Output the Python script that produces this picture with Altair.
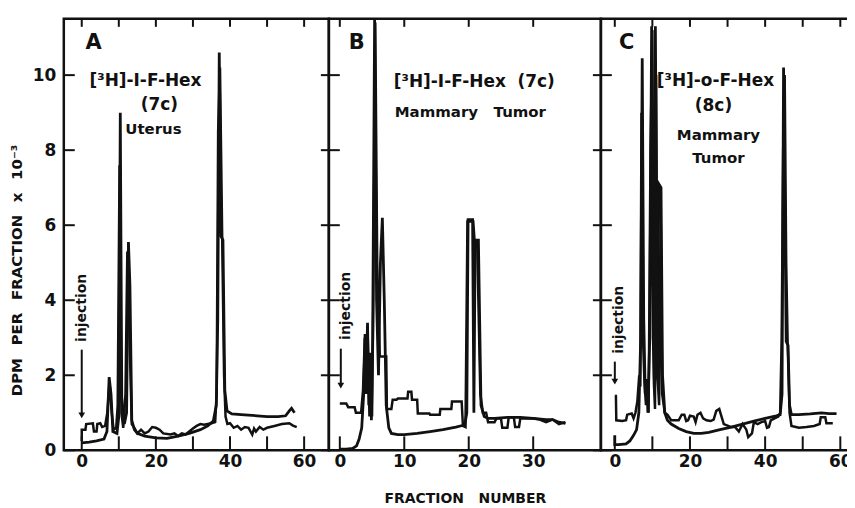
import altair as alt
import pandas as pd

INK = "#111111"
FONT = "DejaVu Sans"

# ---------------- data: fraction number vs DPM x 10^-3 ----------------
# Panel A  ([3H]-I-F-Hex (7c), Uterus)
A_t1_x = [0, 2, 4, 6, 6.8, 7.4, 7.9, 8.4, 9.5, 10.0, 10.4, 10.8, 11.5, 12.1, 12.6, 13.0, 13.5, 14.2, 15, 17,
          20, 23, 26, 29, 32, 34, 35.5, 36.3, 36.7, 37.1, 37.6, 38.1, 38.6, 39.2, 40.5, 43, 46, 50, 53, 55,
          56, 56.6, 57.4]
A_t1_y = [0.2, 0.22, 0.25, 0.3, 0.5, 1.95, 1.5, 0.5, 0.45, 0.9, 9.0, 1.4, 0.7, 1.0, 5.55, 4.4, 0.8, 0.55, 0.45, 0.38,
          0.33, 0.32, 0.38, 0.45, 0.55, 0.65, 0.78, 1.2, 3.5, 10.6, 5.7, 5.6, 1.6, 1.05, 0.97, 0.95, 0.93, 0.9, 0.9, 0.92,
          1.05, 1.12, 1.0]
A_t2_x = [0, 0, 1, 1.2, 3, 3.3, 4, 4.2, 5, 5.5, 6.3, 6.9, 7.5, 8.1, 8.6, 9.3, 9.7, 10.2, 10.7, 11.2,
          11.8, 12.3, 12.9, 13.5, 14.2, 15, 16, 17, 18, 19, 20, 21, 22, 24, 25, 26, 27, 28, 29, 30,
          31, 32, 33, 34, 35, 36, 36.4, 36.8, 37.3, 37.9, 38.4, 38.8, 39.3, 40, 41, 42, 43, 44, 45, 46,
          46.5, 47, 48, 49, 50, 52, 54, 56, 57, 58]
A_t2_y = [0.25, 0.55, 0.55, 0.7, 0.72, 0.5, 0.5, 0.7, 0.72, 0.62, 0.65, 1.0, 1.8, 1.0, 0.55, 0.6, 1.2, 7.6, 1.0, 0.6,
          1.5, 5.3, 3.0, 0.7, 0.6, 0.45, 0.55, 0.45, 0.5, 0.62, 0.6, 0.55, 0.45, 0.42, 0.45, 0.38, 0.45, 0.42, 0.5, 0.58,
          0.65, 0.7, 0.68, 0.7, 0.72, 0.75, 1.5, 8.5, 10.2, 5.6, 2.0, 0.9, 0.7, 0.72, 0.6, 0.65, 0.55, 0.62, 0.6, 0.42,
          0.58, 0.5, 0.62, 0.55, 0.6, 0.65, 0.7, 0.72, 0.66, 0.62]

# Panel B  ([3H]-I-F-Hex (7c), Mammary Tumor)
B_t1_x = [0, 1, 2, 2.6, 3, 3.4, 3.7, 3.9, 4.05, 4.3, 4.5, 4.7, 4.9, 5.1, 5.4, 5.7, 6.0, 6.3, 6.6, 6.9,
          7.2, 7.6, 8, 9, 10, 12, 14, 16, 18, 19, 19.4, 19.7, 19.9, 20.6, 20.8, 21.0, 21.5, 21.9, 22.4, 23,
          24, 26, 28, 30, 32, 33, 34, 35]
B_t1_y = [0.03, 0.03, 0.05, 0.12, 0.3, 0.6, 1.5, 3.0, 1.5, 3.4, 1.2, 2.6, 0.8, 3.0, 11.5, 4.0, 2.0, 5.0, 6.2, 4.0,
          1.2, 0.6, 0.45, 0.42, 0.42, 0.45, 0.5, 0.55, 0.62, 0.66, 0.7, 1.0, 6.15, 6.15, 1.0, 5.6, 5.6, 1.2, 0.9, 0.85,
          0.85, 0.88, 0.88, 0.85, 0.82, 0.82, 0.75, 0.72]
B_t2_x = [0, 1, 1.3, 2.3, 2.5, 3.3, 3.6, 3.9, 4.1, 4.3, 4.6, 4.8, 5.0, 5.2, 5.5, 5.8, 6.2, 6.6, 7.2, 7.3,
          8, 8.2, 8.8, 9, 10.5, 10.6, 11.1, 11.2, 12, 12.1, 13.9, 14, 15.5, 15.6, 17.3, 17.4, 18.9, 19.1, 19.5, 19.8,
          20.7, 20.9, 21.3, 21.8, 22.2, 22.7, 23, 24, 24.3, 25, 25.2, 26, 26.2, 27, 27.2, 27.8, 28, 30, 31, 32,
          33, 34, 35]
B_t2_y = [1.25, 1.25, 1.15, 1.15, 1.0, 1.0, 1.6, 3.1, 1.6, 3.3, 0.9, 2.0, 0.9, 4.0, 11.4, 5.0, 2.5, 2.5, 2.5, 1.1,
          1.1, 1.35, 1.35, 1.38, 1.38, 1.56, 1.56, 1.35, 1.35, 0.98, 0.98, 0.95, 0.95, 1.1, 1.1, 1.3, 1.3, 0.65, 0.62, 6.1,
          6.1, 5.6, 5.6, 1.5, 1.0, 1.0, 0.75, 0.75, 0.85, 0.85, 0.6, 0.6, 0.88, 0.88, 0.62, 0.62, 0.85, 0.85, 0.82, 0.75,
          0.82, 0.7, 0.75]

# Panel C  ([3H]-o-F-Hex (8c), Mammary Tumor)
C_t1_x = [0, 0, 1, 3, 4, 5, 5.8, 6.4, 6.9, 7.3, 7.7, 8.1, 8.5, 8.8, 9.3, 9.8, 10.2, 10.5, 10.8, 11.3,
          11.7, 12.3, 12.7, 13.3, 14, 15, 17, 19, 21, 23, 25, 28, 31, 34, 37, 40, 43, 44, 44.5, 44.9,
          45.3, 45.6, 46.1, 46.5, 47, 49, 52, 55, 57, 59]
C_t1_y = [0.4, 0.15, 0.15, 0.17, 0.25, 0.4, 0.55, 1.0, 3.0, 10.45, 3.5, 1.5, 1.9, 1.0, 3.0, 11.3, 3.0, 1.9, 11.3, 3.0,
          7.1, 7.0, 2.0, 1.0, 0.8, 0.7, 0.58, 0.5, 0.45, 0.45, 0.48, 0.55, 0.62, 0.7, 0.78, 0.85, 0.92, 0.95, 1.5, 10.2,
          6.0, 2.9, 2.8, 1.2, 0.95, 0.95, 0.97, 1.0, 0.98, 0.98]
C_t2_x = [0, 0.3, 0.4, 2, 3, 3.3, 4.5, 5, 5.5, 6, 6.5, 6.8, 7.1, 7.5, 7.9, 8.3, 8.6, 9.0, 9.5, 10.0,
          10.4, 10.7, 11.0, 11.4, 11.8, 12.2, 12.6, 13.3, 14, 15, 17, 17.8, 18.5, 19, 19.5, 20, 21, 21.5, 22, 22.8,
          23.5, 24.4, 25.5, 26.3, 27, 27.8, 28.4, 29, 31, 32, 33, 34, 35, 35.5, 36.5, 37, 38, 39, 40, 40.5,
          41, 41.5, 42.5, 43.5, 44, 44.4, 44.8, 45.2, 45.6, 46, 46.5, 47, 49, 51, 53, 54.5, 54.8, 56, 56.3, 58]
C_t2_y = [1.45, 1.45, 0.8, 0.78, 0.8, 0.95, 0.98, 0.85, 1.0, 1.3, 2.0, 1.7, 9.0, 3.0, 1.8, 1.2, 1.9, 1.0, 8.0, 11.2,
          1.8, 1.1, 10.0, 1.9, 1.2, 6.5, 1.5, 1.0, 0.95, 0.8, 0.8, 0.95, 0.95, 0.78, 0.8, 0.92, 0.9, 0.75, 0.95, 1.0,
          0.85, 0.8, 0.78, 0.82, 1.05, 1.1, 0.9, 0.7, 0.62, 0.62, 0.5, 0.7, 0.55, 0.35, 0.45, 0.75, 0.7, 0.75, 0.78, 0.6,
          0.62, 0.8, 0.85, 0.9, 1.0, 3.0, 8.0, 10.0, 5.0, 2.8, 1.0, 0.65, 0.6, 0.62, 0.65, 0.7, 0.88, 0.88, 0.72, 0.72]

Y_TICKS = [0, 2, 4, 6, 8, 10]
A_XLABELS = [0, 20, 40, 60]
B_XLABELS = [0, 10, 20, 30]
C_XLABELS = [0, 20, 40, 60]
A_XTICKS = [0, 10, 20, 30, 40, 50, 60]
B_XTICKS = [0, 10, 20, 30]
C_XTICKS = [0, 10, 20, 30, 40, 50, 60]

GAP = "\u00a0\u2002"
Y_TITLE = GAP.join(["DPM", "PER", "FRACTION", "x", "10\u207b\u00b3"])
X_TITLE = "FRACTION\u00a0\u00a0\u00a0NUMBER"

H = 433
YDOM = [0, 11.5]


def frame(xs, ys):
    return pd.DataFrame({"x": xs, "y": ys, "i": list(range(len(xs)))})


def text(s, x, y, size=16, angle=0):
    return alt.Chart(pd.DataFrame({"n": [0]})).mark_text(
        text=s, font=FONT, fontWeight="bold", fontSize=size, color=INK,
        align="center", baseline="middle", angle=angle
    ).encode(x=alt.value(x), y=alt.value(y))


def arrow(x, y1, y2):
    line = alt.Chart(pd.DataFrame({"n": [0]})).mark_rule(color=INK, strokeWidth=2).encode(
        x=alt.value(x), y=alt.value(y1), y2=alt.value(y2))
    head = alt.Chart(pd.DataFrame({"n": [0]})).mark_point(
        shape="triangle-down", filled=True, size=45, color=INK, opacity=1
    ).encode(x=alt.value(x), y=alt.value(y2 + 2))
    return [line, head]


def panel(t1x, t1y, t2x, t2y, xdom, width, xlabels, xticks, show_y, xtitle, notes):
    xs = alt.Scale(domain=xdom, nice=False, zero=False)
    ys = alt.Scale(domain=YDOM, nice=False, zero=False)

    x1_kw = dict(orient="bottom", values=xlabels, ticks=False, domain=False, grid=False,
                 labelPadding=3, labelFlush=False, labelOverlap=False)
    if xtitle:
        x1_kw.update(title=xtitle, titleX=width / 2, titleY=48, titleBaseline="middle",
                     titleAlign="center", titleFontSize=14)
    else:
        x1_kw.update(title=None)
    y1_kw = dict(orient="left", values=Y_TICKS, ticks=False, domain=False, grid=False,
                 labels=show_y, labelPadding=8, labelFlush=False, labelOverlap=False)
    if show_y:
        y1_kw.update(title=Y_TITLE, titleX=-47, titleY=252, titleAngle=270,
                     titleAlign="center", titleBaseline="middle", titleFontSize=15)
    else:
        y1_kw.update(title=None)

    l1 = alt.Chart(frame(t1x, t1y)).mark_line(color=INK, strokeWidth=2.8, clip=True).encode(
        x=alt.X("x:Q", scale=xs, axis=alt.Axis(**x1_kw)),
        y=alt.Y("y:Q", scale=ys, axis=alt.Axis(**y1_kw)),
        order=alt.Order("i:Q"),
    )
    l2 = alt.Chart(frame(t2x, t2y)).mark_line(color=INK, strokeWidth=2.5, clip=True).encode(
        x=alt.X("x:Q", scale=xs, axis=None),
        y=alt.Y("y:Q", scale=ys, axis=None),
        order=alt.Order("i:Q"),
    )
    xt = pd.DataFrame({"t": xticks})
    yt = pd.DataFrame({"t": Y_TICKS})
    tick = dict(color=INK, strokeWidth=2)
    # inward ticks: bottom (long), top (short), left, right
    t_bot = alt.Chart(xt).mark_rule(**tick).encode(
        x=alt.X("t:Q", scale=xs, axis=None), y=alt.value(H - 14), y2=alt.value(H))
    t_top = alt.Chart(xt).mark_rule(**tick).encode(
        x=alt.X("t:Q", scale=xs, axis=None), y=alt.value(0), y2=alt.value(8))
    t_left = alt.Chart(yt).mark_rule(**tick).encode(
        y=alt.Y("t:Q", scale=ys, axis=None), x=alt.value(0), x2=alt.value(11))
    t_right = alt.Chart(yt).mark_rule(**tick).encode(
        y=alt.Y("t:Q", scale=ys, axis=None), x=alt.value(width - 8), x2=alt.value(width))
    return alt.layer(l1, l2, t_bot, t_top, t_left, t_right, *notes).resolve_axis(
        x="independent", y="independent").properties(width=width, height=H)


notes_A = [text("A", 30, 24, 21), text("[\u00b3H]-I-F-Hex", 82, 62, 17), text("(7c)", 96, 86, 17),
           text("Uterus", 90, 111, 15), text("injection", 18, 290, 14, 270)] + arrow(18, 332, 396)
notes_B = [text("B", 28, 24, 21), text("[\u00b3H]-I-F-Hex\u00a0\u00a0(7c)", 146, 63, 17),
           text("Mammary\u00a0\u00a0\u00a0Tumor", 142, 94, 15),
           text("injection", 17, 288, 14, 270)] + arrow(12, 331, 366)
notes_C = [text("C", 26, 24, 21), text("[\u00b3H]-o-F-Hex", 115, 62, 17), text("(8c)", 113, 87, 17),
           text("Mammary", 118, 117, 15), text("Tumor", 118, 140, 15),
           text("injection", 18, 302, 14, 270)] + arrow(14, 344, 362)

pA = panel(A_t1_x, A_t1_y, A_t2_x, A_t2_y, [-4.84, 66.67], 266, A_XLABELS, A_XTICKS, True, None, notes_A)
pB = panel(B_t1_x, B_t1_y, B_t2_x, B_t2_y, [-1.7, 40.5], 273, B_XLABELS, B_XTICKS, False, X_TITLE, notes_B)
pC = panel(C_t1_x, C_t1_y, C_t2_x, C_t2_y, [-3.7, 63.9], 255, C_XLABELS, C_XTICKS, False, None, notes_C)

chart = alt.hconcat(pA, pB, pC, spacing=0, bounds="flush").properties(
    padding={"left": 0, "top": 7, "right": -11, "bottom": -2}
).configure_view(
    stroke=INK, strokeWidth=2.5
).configure_axis(
    labelFont=FONT, labelFontWeight="bold", labelFontSize=17, labelColor=INK,
    tickColor=INK, tickWidth=2, titleFont=FONT, titleFontWeight="bold", titleColor=INK,
    grid=False
)

chart.save("out.html", embed_options={"renderer": "svg", "actions": False})
